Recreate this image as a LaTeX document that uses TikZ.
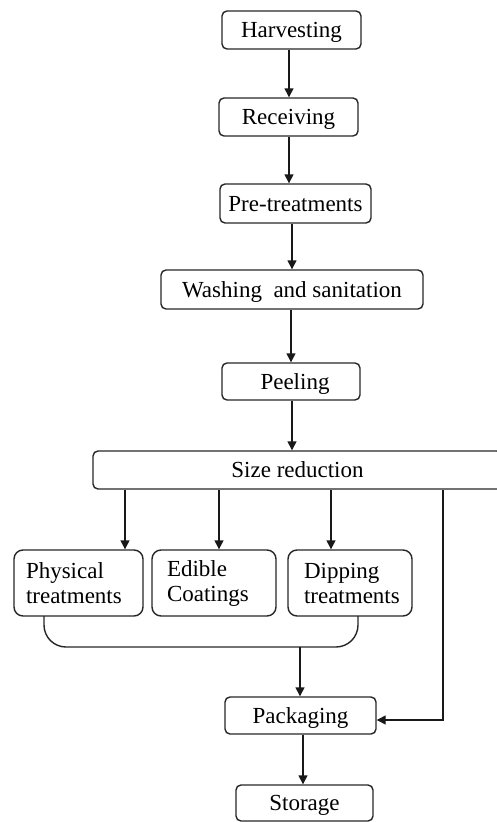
\documentclass[tikz,border=0pt]{standalone}
\usepackage{fontspec}
\setmainfont{Liberation Serif}
\usetikzlibrary{arrows.meta,calc}
\begin{document}
\begin{tikzpicture}[x=1pt,y=1pt,
  box/.style={draw=black!85,line width=1.4pt,rounded corners=5pt,inner sep=0pt,
    text depth=0pt,font=\fontsize{23}{25}\selectfont},
  tbox/.style={draw=black!85,line width=1.4pt,rounded corners=9pt,inner ysep=0pt,
    minimum height=66pt,align=left,font=\fontsize{23}{25}\selectfont},
  arr/.style={line width=1.4pt,draw=black!90,-{Triangle[length=9pt,width=9pt]}},
  ln/.style={line width=1.4pt,draw=black!85}]
\useasboundingbox (0,0) rectangle (497,-822);
\clip (0,0) rectangle (497,-822);
\node[box,minimum width=139pt,minimum height=38pt] (harv) at (291.5,-30) {Harvesting};
\node[box,minimum width=139pt,minimum height=38pt] (recv) at (288.5,-117) {Receiving};
\node[box,minimum width=151pt,minimum height=39pt] (pre) at (295.5,-203.5) {Pre-treatments};
\node[box,minimum width=262pt,minimum height=39pt] (wash) at (292,-289.5) {Washing\ \ and sanitation};
\node[box,minimum width=138pt,minimum height=37pt] (peel) at (291,-381.5) {\hspace*{8pt}Peeling};
\node[box,minimum width=409pt,minimum height=38pt] (size) at (297.5,-470) {Size reduction};
\node[tbox,inner xsep=12pt,text width=105pt] (phys) at (78.5,-583) {Physical\\treatments};
\node[tbox,inner xsep=15pt,text width=94pt] (edib) at (214,-583) {Edible\\Coatings};
\node[tbox,inner xsep=16pt,text width=92pt] (dip) at (350,-583) {Dipping\\treatments};
\node[box,minimum width=151pt,minimum height=37pt] (pack) at (300.5,-715.5) {Packaging};
\node[box,minimum width=137pt,minimum height=36pt] (stor) at (304.5,-803) {Storage};
\coordinate (xa) at (125,0);
\coordinate (xb) at (219,0);
\coordinate (xc) at (331,0);
\coordinate (xr) at (443,0);
\coordinate (bl) at (44,-616);
\coordinate (br) at (358,-616);
\coordinate (bm) at (300,-647);
\draw[arr] (harv.south -| 289,0) -- (recv.north -| 289,0);
\draw[arr] (recv.south -| 289,0) -- (pre.north -| 289,0);
\draw[arr] (pre.south -| 292,0) -- (wash.north -| 292,0);
\draw[arr] (wash.south -| 291,0) -- (peel.north -| 291,0);
\draw[arr] (peel.south -| 292,0) -- (size.north -| 292,0);
\draw[arr] (size.south -| xa) -- (phys.north -| xa);
\draw[arr] (size.south -| xb) -- (edib.north -| xb);
\draw[arr] (size.south -| xc) -- (dip.north -| xc);
\draw[ln,rounded corners=22pt] (bl) -- (44,-647) -- (358,-647) -- (br);
\draw[arr] (bm) -- (bm |- pack.north);
\draw[arr] (pack.south -| 303,0) -- (stor.north -| 303,0);
\draw[arr] (size.south -| xr) -- (443,-720) -- (pack.east |- 0,-720);
\end{tikzpicture}
\end{document}
